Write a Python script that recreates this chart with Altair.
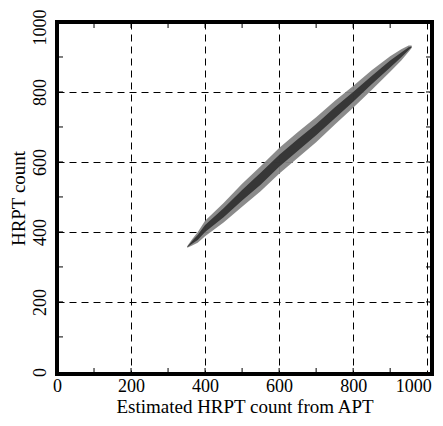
import altair as alt
import pandas as pd

# Band of the scatter cloud: x, outer lower/upper edge, dense core lower/upper edge
band_x = [352, 365, 380, 400, 450, 500, 550, 600, 650, 700, 750, 800, 850, 900, 930, 950, 958]
outer_lo = [355, 361, 369, 388, 427, 472, 516, 566, 611, 656, 706, 755, 806, 858, 890, 915, 926]
outer_hi = [360, 379, 399, 432, 483, 538, 588, 640, 685, 728, 774, 817, 862, 902, 922, 933, 933]
core_lo = [356, 366, 377, 400, 442, 490, 535, 586, 631, 676, 724, 772, 822, 870, 899, 920, 928]
core_hi = [358, 374, 391, 420, 468, 520, 569, 620, 665, 708, 756, 800, 846, 890, 913, 928, 930]

tick_labels = [0, 200, 400, 600, 800, 1000]
minor_ticks = [100, 200, 300, 400, 500, 600, 700, 800, 900]

W, H = 375, 352
FONT = "'Liberation Serif', 'Times New Roman', serif"

band = pd.DataFrame({"x": band_x, "lo": outer_lo, "hi": outer_hi, "clo": core_lo, "chi": core_hi})
ticks = pd.DataFrame({"v": minor_ticks})

xs = alt.Scale(domain=[0, 1013], nice=False, zero=False)
ys = alt.Scale(domain=[-6, 1000], nice=False, zero=False)

xaxis = alt.Axis(values=tick_labels, format="d", grid=True, gridDash=[7, 5], gridColor="black",
                 gridOpacity=1, gridWidth=1, ticks=False, domain=False,
                 labelFont=FONT, labelFontSize=18, labelColor="black", labelPadding=3,
                 labelAlign={"condition": {"test": "datum.value >= 1000", "value": "right"}, "value": "center"},
                 labelOffset={"condition": {"test": "datum.value >= 1000", "value": 4}, "value": 0},
                 title="Estimated HRPT count from APT", titleFont=FONT, titleFontSize=19,
                 titleFontWeight="normal", titleColor="black", titlePadding=2,
                 labelFlush=False)
yaxis = alt.Axis(values=tick_labels, format="d", grid=True, gridDash=[7, 5], gridColor="black",
                 gridOpacity=1, gridWidth=1, ticks=False, domain=False,
                 labelFont=FONT, labelFontSize=18, labelColor="black", labelPadding=8,
                 labelAngle=-90, labelAlign="center", labelBaseline="bottom",
                 labelOffset={"condition": {"test": "datum.value >= 1000", "value": 5}, "value": 0},
                 title="HRPT count", titleFont=FONT, titleFontSize=19,
                 titleFontWeight="normal", titleColor="black", titlePadding=3,
                 labelFlush=False)

outer = alt.Chart(band).mark_area(color="#858585", opacity=0.95).encode(
    x=alt.X("x:Q", scale=xs, axis=xaxis),
    y=alt.Y("lo:Q", scale=ys, axis=yaxis),
    y2="hi:Q",
)
core = alt.Chart(band).mark_area(color="#2e2e2e", opacity=0.9).encode(
    x=alt.X("x:Q", scale=xs),
    y=alt.Y("clo:Q", scale=ys),
    y2="chi:Q",
)

tb = alt.Chart(ticks).mark_rule(color="black", strokeWidth=1).encode(
    x=alt.X("v:Q", scale=xs), y=alt.value(H), y2=alt.value(H - 6))
tt = alt.Chart(ticks).mark_rule(color="black", strokeWidth=1).encode(
    x=alt.X("v:Q", scale=xs), y=alt.value(0), y2=alt.value(6))
tl = alt.Chart(ticks).mark_rule(color="black", strokeWidth=1).encode(
    y=alt.Y("v:Q", scale=ys), x=alt.value(0), x2=alt.value(6))
tr = alt.Chart(ticks).mark_rule(color="black", strokeWidth=1).encode(
    y=alt.Y("v:Q", scale=ys), x=alt.value(W), x2=alt.value(W - 6))

chart = alt.layer(outer, core, tb, tt, tl, tr).properties(
    width=W, height=H,
    autosize=alt.AutoSizeParams(type="none"),
    padding={"left": 49, "top": 14, "right": 3, "bottom": 44},
    background="white",
).configure_view(stroke="black", strokeWidth=4)

chart.save("out.html", embed_options={"renderer": "svg", "actions": False})
